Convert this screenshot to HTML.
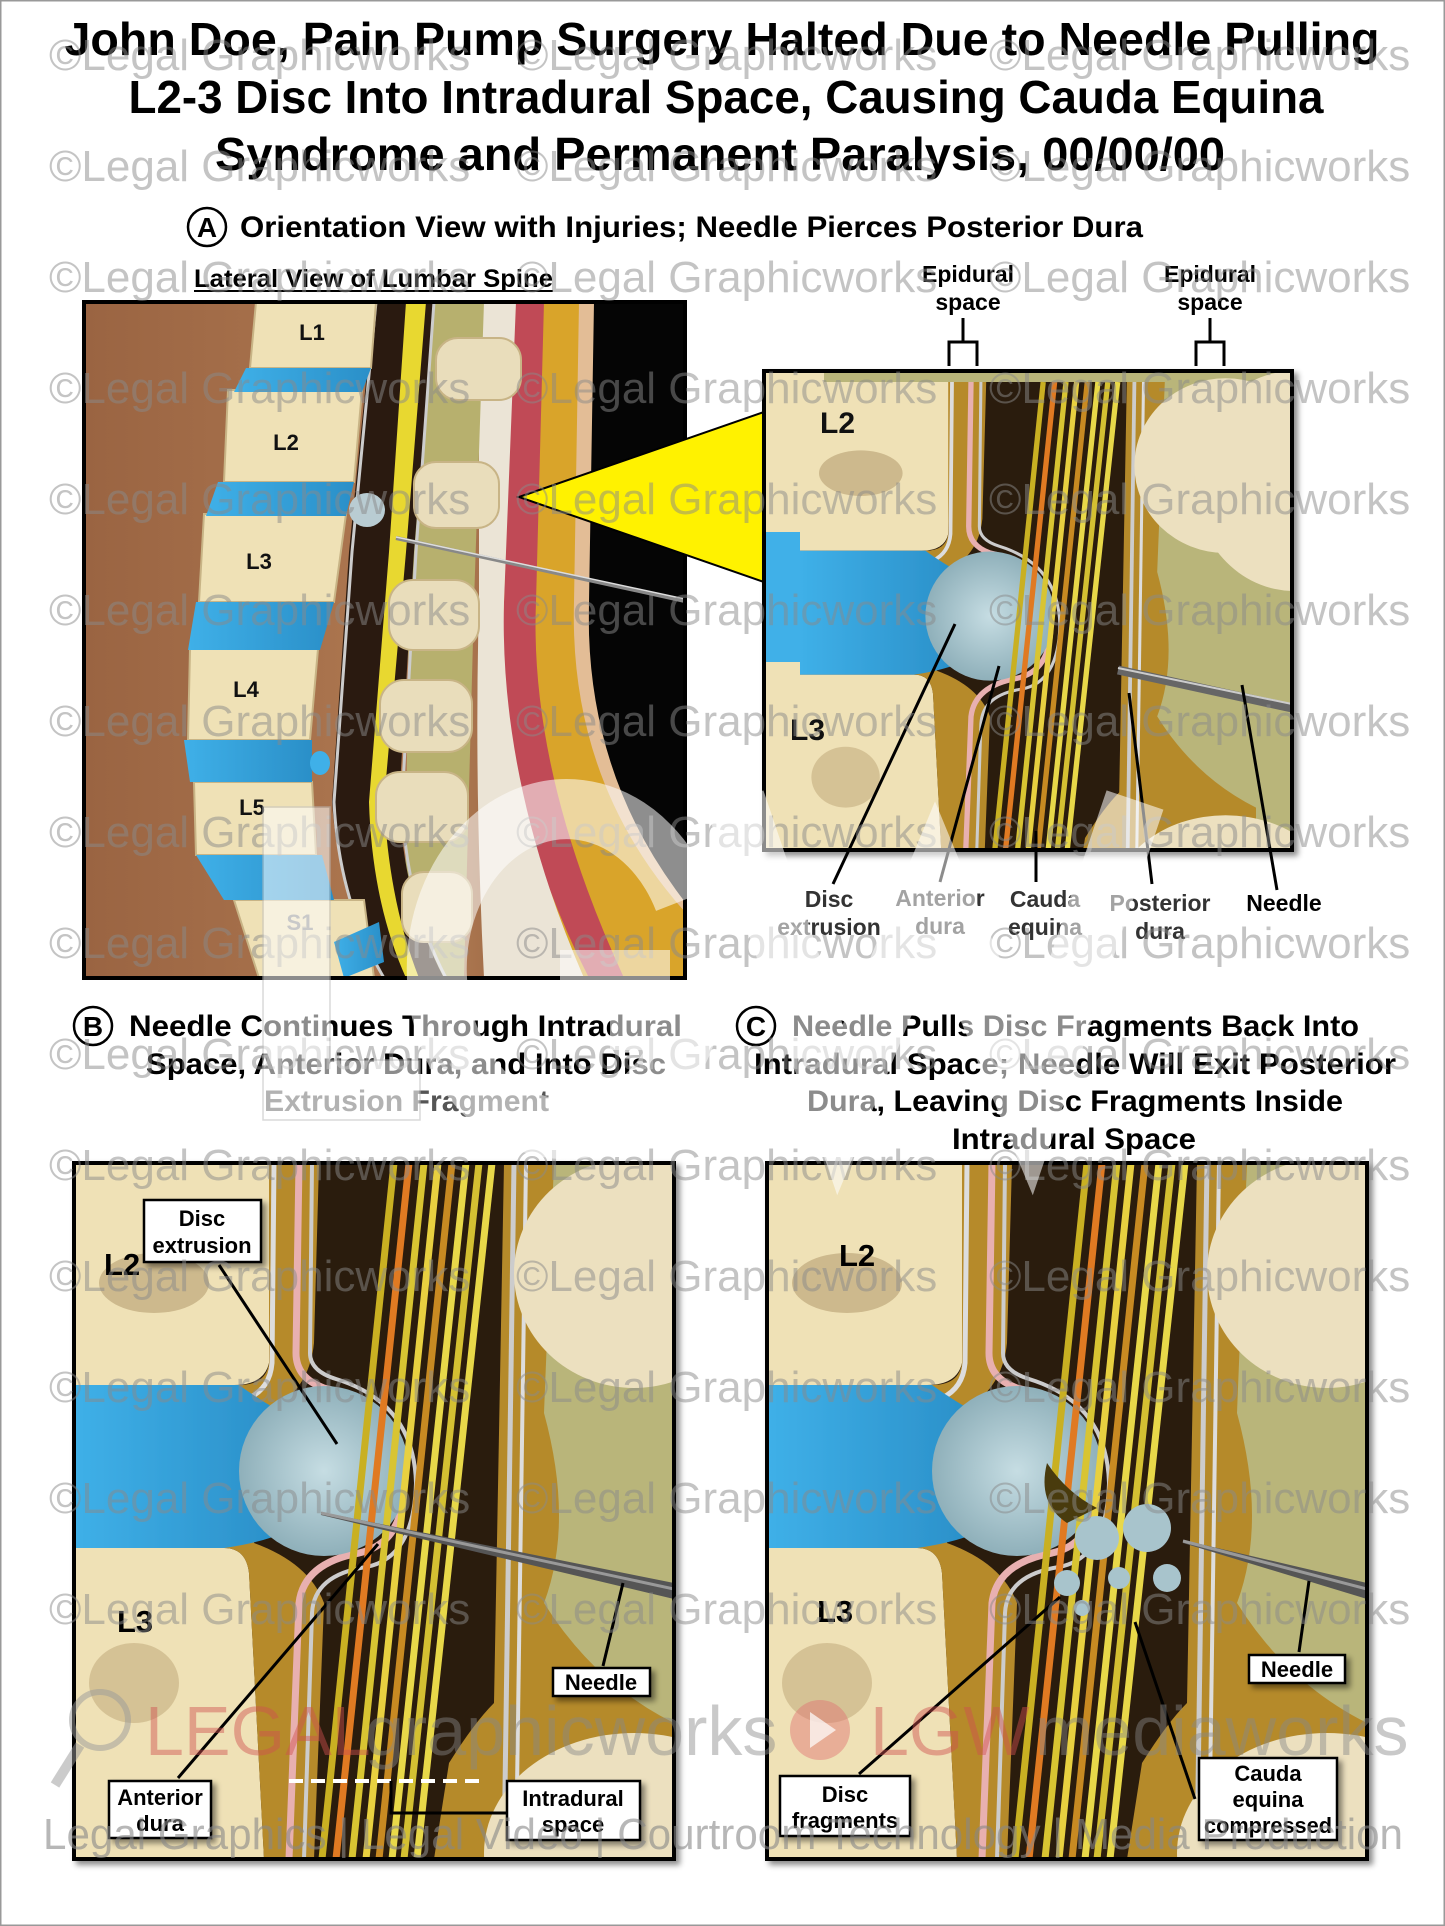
<!DOCTYPE html>
<html><head><meta charset="utf-8"><style>
html,body{margin:0;padding:0;background:#fff;}
svg{display:block;}
text{font-family:"Liberation Sans Narrow","Liberation Sans",sans-serif;font-weight:bold;}
.b{font-family:"Liberation Sans",sans-serif;font-weight:bold;}
.wm{font-family:"Liberation Sans",sans-serif;font-weight:normal;fill:#8a8a8a;opacity:.5;font-size:44px;}
</style></head><body>
<svg width="1445" height="1926" viewBox="0 0 1445 1926" xmlns="http://www.w3.org/2000/svg">
<defs>
<linearGradient id="brown" x1="0" x2="1"><stop offset="0" stop-color="#9a6442"/><stop offset=".6" stop-color="#b07a52"/><stop offset="1" stop-color="#6e4128"/></linearGradient>
<linearGradient id="blue" x1="0" x2="1"><stop offset="0" stop-color="#3fb0e8"/><stop offset="1" stop-color="#2a8fc8"/></linearGradient>
<radialGradient id="extr"><stop offset="0" stop-color="#c6dde3"/><stop offset="1" stop-color="#8fb0ba"/></radialGradient>
<filter id="sh" x="-10%" y="-10%" width="130%" height="130%"><feDropShadow dx="4" dy="4" stdDeviation="3" flood-opacity=".45"/></filter>
<g id="mag">
 <rect x="0" y="0" width="600" height="696" fill="#2a1a10"/>
 <path d="M0 0 H200 L195 200 Q190 222 160 222 H0Z" fill="#efe1b6"/>
 <path d="M0 385 H150 Q172 385 175 410 L190 696 H0Z" fill="#efe1b6"/>
 <ellipse cx="80" cy="120" rx="55" ry="30" fill="#a58a5a" opacity=".45"/>
 <ellipse cx="60" cy="520" rx="45" ry="40" fill="#a58a5a" opacity=".35"/>
 <path d="M195 0 H245 L240 180 Q235 230 190 250 L180 380 Q235 400 250 440 L240 696 H190 L175 410 Q172 385 150 385 L165 222 Q192 222 195 200Z" fill="#b68a2c"/>
 <path d="M200 0 L198 200 Q196 225 175 235" stroke="#ddd" stroke-width="5" fill="none"/>
 <path d="M225 0 L222 190 Q222 215 250 225 Q320 240 330 320 Q330 380 285 390 Q230 400 225 440 L215 696" stroke="#e8b0b0" stroke-width="7" fill="none"/>
 <path d="M238 0 L236 190 Q236 208 262 216 Q340 240 342 320 Q340 395 292 404 Q240 412 238 450 L230 696" stroke="#ccc" stroke-width="4" fill="none"/>
 <path d="M0 222 H165 Q190 240 210 250 L210 370 Q185 380 150 385 H0Z" fill="url(#blue)"/>
 <ellipse cx="250" cy="308" rx="85" ry="85" fill="url(#extr)"/>
 <g stroke-width="7" fill="none">
  <path d="M320 0 L248 696" stroke="#c9b020"/>
  <path d="M335 0 L262 696" stroke="#e07a20"/>
  <path d="M350 0 L278 696" stroke="#d8c430"/>
  <path d="M364 0 L292 696" stroke="#e8d040"/>
  <path d="M378 0 L305 696" stroke="#c88a20"/>
  <path d="M392 0 L318 696" stroke="#e8d848"/>
  <path d="M405 0 L330 696" stroke="#d4c030"/>
  <path d="M418 0 L343 696" stroke="#e8d848"/>
 </g>
 <path d="M430 0 H600 V696 H360 L375 600 Q400 560 420 540Z" fill="#b58a2c"/>
 <path d="M440 0 L430 696" stroke="#ccc" stroke-width="5" fill="none"/>
 <path d="M452 0 L442 696" stroke="#ddd" stroke-width="4" fill="none"/>
 <path d="M480 0 H600 V560 Q520 520 470 440 Q500 360 470 250Z" fill="#b9b57a"/>
 <ellipse cx="560" cy="110" rx="120" ry="115" fill="#ece0bf"/>
 <ellipse cx="560" cy="690" rx="150" ry="120" fill="#ece0bf"/>
</g>
</defs>
<rect width="1445" height="1926" fill="#fff"/>
<rect x="0.5" y="0.5" width="1444" height="1925" fill="none" stroke="#999" stroke-width="2"/>

<text x="722" y="55" font-size="46" text-anchor="middle" textLength="1315" lengthAdjust="spacingAndGlyphs">John Doe, Pain Pump Surgery Halted Due to Needle Pulling</text>
<text x="726" y="113" font-size="46" text-anchor="middle" textLength="1195" lengthAdjust="spacingAndGlyphs">L2-3 Disc Into Intradural Space, Causing Cauda Equina</text>
<text x="720" y="170" font-size="46" text-anchor="middle" textLength="1010" lengthAdjust="spacingAndGlyphs">Syndrome and Permanent Paralysis, 00/00/00</text>
<circle cx="207" cy="227" r="19" fill="none" stroke="#000" stroke-width="2.5"/>
<text x="207" y="237" font-size="28" text-anchor="middle">A</text>
<text x="240" y="237" font-size="30" textLength="903" lengthAdjust="spacingAndGlyphs">Orientation View with Injuries; Needle Pierces Posterior Dura</text>
<text x="194" y="287" font-size="25" textLength="359" lengthAdjust="spacingAndGlyphs">Lateral View of Lumbar Spine</text>
<line x1="194" y1="291" x2="553" y2="291" stroke="#000" stroke-width="2"/>
<text x="968" y="282" font-size="23" text-anchor="middle">Epidural</text>
<text x="968" y="310" font-size="23" text-anchor="middle">space</text>
<text x="1210" y="282" font-size="23" text-anchor="middle">Epidural</text>
<text x="1210" y="310" font-size="23" text-anchor="middle">space</text>
<path d="M963 318 V342 M949 366 V342 H977 V366" stroke="#000" stroke-width="3" fill="none"/>
<path d="M1210 318 V342 M1196 366 V342 H1224 V366" stroke="#000" stroke-width="3" fill="none"/>

<!-- Panel A -->
<g transform="translate(84,302)">
 <svg width="601" height="676" viewBox="0 0 601 676">
 <rect width="601" height="676" fill="url(#brown)"/>
 <rect x="505" y="0" width="96" height="676" fill="#050505"/>
 <path d="M475 0 H510 L505 300 Q500 470 601 600 V676 H470 Q420 500 430 300Z" fill="#e3bd96"/>
 <path d="M455 0 H495 L490 300 Q485 480 601 610 V676 H460 Q405 500 415 300Z" fill="#d9a42a"/>
 <path d="M430 0 H460 L452 300 Q445 470 540 676 H505 Q410 490 420 300 L420 300Z" fill="#c04a56"/>
 <path d="M395 0 H432 L420 300 Q415 480 500 676 H400 Q390 480 395 300Z" fill="#ebe4d6"/>
 <path d="M345 0 H400 L390 300 L380 676 H320 L325 300Z" fill="#b7b06e"/>
 <path d="M290 0 H350 L330 250 L315 500 Q320 600 360 676 H300 Q255 600 248 500 L265 250Z" fill="#2a1a10"/>
 <path d="M322 0 H342 L322 250 L300 500 Q305 600 335 676 H322 Q288 600 285 500 L305 250Z" fill="#e8d830"/>
 <path d="M292 0 L268 250 L250 500 Q255 600 300 676" stroke="#ccc" stroke-width="3" fill="none"/>
 <path d="M350 0 L332 250 L318 500 Q322 600 362 676" stroke="#ccc" stroke-width="3" fill="none"/>
 <g fill="#efe1b6" stroke="#c8b486" stroke-width="2">
  <path d="M172 0 H292 L287 66 H166Z"/>
  <path d="M144 88 H278 L270 180 H140Z"/>
  <path d="M120 212 H262 L250 300 H115Z"/>
  <path d="M106 347 H234 L226 438 H104Z"/>
  <path d="M110 480 H228 L232 553 H112Z"/>
  <path d="M150 598 H280 L290 676 H175Z"/>
 </g>
 <g fill="url(#blue)">
  <path d="M162 66 H287 L278 90 H150Z"/>
  <path d="M134 180 H270 L262 214 H122Z"/>
  <path d="M112 300 H250 L236 348 H104Z"/>
  <path d="M100 438 H228 L228 480 H106Z"/>
  <path d="M112 553 H238 L250 598 H140Z"/>
  <path d="M250 640 L295 620 L300 660 L260 676Z"/>
 </g>
 <ellipse cx="283" cy="208" rx="18" ry="17" fill="#b9ccd2"/>
 <ellipse cx="236" cy="461" rx="10" ry="12" fill="#3fb0e8"/>
 <g fill="#e9ddbb" stroke="#c8b486" stroke-width="2">
  <rect x="352" y="36" width="85" height="62" rx="22"/>
  <rect x="330" y="160" width="85" height="66" rx="22"/>
  <rect x="305" y="278" width="90" height="70" rx="24"/>
  <rect x="296" y="378" width="92" height="72" rx="24"/>
  <rect x="292" y="470" width="92" height="70" rx="24"/>
  <rect x="318" y="570" width="70" height="70" rx="22"/>
 </g>
 <line x1="312" y1="236" x2="601" y2="299" stroke="#888" stroke-width="4"/>
 <line x1="312" y1="235" x2="601" y2="297" stroke="#ddd" stroke-width="1.5"/>
 </svg>
 <rect x="0" y="0" width="601" height="676" fill="none" stroke="#000" stroke-width="4"/>
</g>
<g font-size="22" fill="#111">
 <text x="312" y="340" text-anchor="middle" class="b">L1</text>
 <text x="286" y="450" text-anchor="middle" class="b">L2</text>
 <text x="259" y="569" text-anchor="middle" class="b">L3</text>
 <text x="246" y="697" text-anchor="middle" class="b">L4</text>
 <text x="252" y="815" text-anchor="middle" class="b">L5</text>
 <text x="300" y="930" text-anchor="middle" class="b" fill="#888">S1</text>
</g>
<polygon points="519,497 764,412 764,582" fill="#fff200" stroke="#000" stroke-width="2"/>

<!-- Top right panel -->
<g transform="translate(764,371)" filter="url(#sh)">
 <svg width="528" height="479" viewBox="0 0 528 479">
  <rect width="528" height="479" fill="#b9b57a"/>
  <rect width="60" height="479" fill="#efe1b6"/>
  <rect x="0" y="161" width="60" height="130" fill="#3fb0e8"/>
  <g transform="translate(36,11) scale(0.76)"><use href="#mag"/></g>
  <ellipse cx="530" cy="110" rx="100" ry="110" fill="#ece0bf"/>
  <line x1="354" y1="299" x2="528" y2="337" stroke="#666" stroke-width="9"/>
  <line x1="354" y1="297" x2="528" y2="333" stroke="#ccc" stroke-width="2"/>
 </svg>
 <rect x="0" y="0" width="528" height="479" fill="none" stroke="#000" stroke-width="4"/>
</g>
<text x="820" y="433" font-size="30" class="b" fill="#111">L2</text>
<text x="790" y="740" font-size="30" class="b" fill="#111">L3</text>
<g stroke="#000" stroke-width="3">
 <line x1="833" y1="884" x2="955" y2="624"/>
 <line x1="940" y1="882" x2="999" y2="666"/>
 <line x1="1036" y1="882" x2="1036" y2="831"/>
 <line x1="1152" y1="884" x2="1129" y2="693"/>
 <line x1="1277" y1="890" x2="1242" y2="685"/>
</g>
<g font-size="23" text-anchor="middle" fill="#333">
 <text x="829" y="907" class="b">Disc</text><text x="829" y="935" class="b">extrusion</text>
 <text x="940" y="906" class="b">Anterior</text><text x="940" y="934" class="b">dura</text>
 <text x="1045" y="907" class="b">Cauda</text><text x="1045" y="935" class="b">equina</text>
 <text x="1160" y="911" class="b">Posterior</text><text x="1160" y="939" class="b">dura</text>
 <text x="1284" y="911" class="b" fill="#000">Needle</text>
</g>

<!-- B & C headings -->
<circle cx="93" cy="1026" r="19" fill="none" stroke="#000" stroke-width="2.5"/>
<text x="93" y="1036" font-size="28" text-anchor="middle" class="b">B</text>
<text x="129" y="1036" font-size="30" class="b" textLength="553" lengthAdjust="spacingAndGlyphs">Needle Continues Through Intradural</text>
<text x="146" y="1074" font-size="30" class="b" textLength="520" lengthAdjust="spacingAndGlyphs">Space, Anterior Dura, and Into Disc</text>
<text x="264" y="1111" font-size="30" class="b" textLength="285" lengthAdjust="spacingAndGlyphs" fill="#555">Extrusion Fragment</text>
<circle cx="756" cy="1026" r="19" fill="none" stroke="#000" stroke-width="2.5"/>
<text x="756" y="1036" font-size="28" text-anchor="middle" class="b">C</text>
<text x="792" y="1036" font-size="30" class="b" textLength="567" lengthAdjust="spacingAndGlyphs">Needle Pulls Disc Fragments Back Into</text>
<text x="754" y="1074" font-size="30" class="b" textLength="642" lengthAdjust="spacingAndGlyphs">Intradural Space; Needle Will Exit Posterior</text>
<text x="807" y="1111" font-size="30" class="b" textLength="536" lengthAdjust="spacingAndGlyphs">Dura, Leaving Disc Fragments Inside</text>
<text x="952" y="1149" font-size="30" class="b" textLength="244" lengthAdjust="spacingAndGlyphs">Intradural Space</text>

<!-- Panel B -->
<g transform="translate(74,1163)" filter="url(#sh)">
 <svg width="600" height="696" viewBox="0 0 600 696">
  <use href="#mag"/>
  <polygon points="247,349 600,420 600,436 247,352" fill="#555"/>
  <line x1="247" y1="350" x2="600" y2="426" stroke="#999" stroke-width="3"/>
  <path d="M215 618 H410" stroke="#fff" stroke-width="4" stroke-dasharray="14 8"/>
 </svg>
 <rect x="0" y="0" width="600" height="696" fill="none" stroke="#000" stroke-width="4"/>
</g>

<!-- Panel C -->
<g transform="translate(767,1163)" filter="url(#sh)">
 <svg width="600" height="696" viewBox="0 0 600 696">
  <use href="#mag"/>
  <path d="M280 300 Q300 330 330 345 L300 360 Q270 340 280 300Z" fill="#4a3a10"/>
  <g fill="#a8c4cc">
   <circle cx="330" cy="375" r="22"/><circle cx="380" cy="365" r="24"/><circle cx="300" cy="420" r="13"/>
   <circle cx="352" cy="415" r="11"/><circle cx="400" cy="415" r="14"/><circle cx="315" cy="445" r="8"/>
  </g>
  <polygon points="416,377 600,420 600,436 416,380" fill="#555"/>
  <line x1="416" y1="378" x2="600" y2="426" stroke="#999" stroke-width="3"/>
 </svg>
 <rect x="0" y="0" width="600" height="696" fill="none" stroke="#000" stroke-width="4"/>
</g>

<text x="104" y="1275" font-size="31" class="b">L2</text>
<text x="117" y="1632" font-size="31" class="b">L3</text>
<text x="839" y="1266" font-size="31" class="b">L2</text>
<text x="817" y="1622" font-size="31" class="b">L3</text>
<g stroke="#000" stroke-width="3" fill="none">
 <line x1="219" y1="1265" x2="337" y2="1444"/>
 <line x1="603" y1="1666" x2="623" y2="1583"/>
 <line x1="178" y1="1778" x2="378" y2="1544"/>
 <path d="M507 1813 H391 V1781"/>
 <line x1="859" y1="1774" x2="1060" y2="1597"/>
 <line x1="1195" y1="1799" x2="1135" y2="1622"/>
 <line x1="1299" y1="1652" x2="1309" y2="1581"/>
</g>
<g filter="url(#sh)" fill="#fff" stroke="#000" stroke-width="2.5">
 <rect x="144" y="1200" width="117" height="62"/>
 <rect x="553" y="1668" width="97" height="28"/>
 <rect x="109" y="1781" width="102" height="57"/>
 <rect x="507" y="1781" width="133" height="59"/>
 <rect x="780" y="1776" width="130" height="60"/>
 <rect x="1249" y="1655" width="96" height="28"/>
 <rect x="1199" y="1758" width="138" height="82"/>
</g>
<g font-size="22" text-anchor="middle">
 <text x="202" y="1226" class="b">Disc</text><text x="202" y="1253" class="b">extrusion</text>
 <text x="601" y="1690" class="b">Needle</text>
 <text x="160" y="1805" class="b">Anterior</text><text x="160" y="1831" class="b">dura</text>
 <text x="573" y="1806" class="b">Intradural</text><text x="573" y="1832" class="b">space</text>
 <text x="845" y="1802" class="b">Disc</text><text x="845" y="1828" class="b">fragments</text>
 <text x="1297" y="1677" class="b">Needle</text>
 <text x="1268" y="1781" class="b">Cauda</text><text x="1268" y="1807" class="b">equina</text><text x="1268" y="1833" class="b" textLength="128" lengthAdjust="spacingAndGlyphs">compressed</text>
</g>

<!-- repeating watermark -->
<g>
 <text x="49" y="70" class="wm">©Legal Graphicworks</text><text x="516" y="70" class="wm">©Legal Graphicworks</text><text x="989" y="70" class="wm">©Legal Graphicworks</text>
 <text x="49" y="181" class="wm">©Legal Graphicworks</text><text x="516" y="181" class="wm">©Legal Graphicworks</text><text x="989" y="181" class="wm">©Legal Graphicworks</text>
 <text x="49" y="292" class="wm">©Legal Graphicworks</text><text x="516" y="292" class="wm">©Legal Graphicworks</text><text x="989" y="292" class="wm">©Legal Graphicworks</text>
 <text x="49" y="403" class="wm">©Legal Graphicworks</text><text x="516" y="403" class="wm">©Legal Graphicworks</text><text x="989" y="403" class="wm">©Legal Graphicworks</text>
 <text x="49" y="514" class="wm">©Legal Graphicworks</text><text x="516" y="514" class="wm">©Legal Graphicworks</text><text x="989" y="514" class="wm">©Legal Graphicworks</text>
 <text x="49" y="625" class="wm">©Legal Graphicworks</text><text x="516" y="625" class="wm">©Legal Graphicworks</text><text x="989" y="625" class="wm">©Legal Graphicworks</text>
 <text x="49" y="736" class="wm">©Legal Graphicworks</text><text x="516" y="736" class="wm">©Legal Graphicworks</text><text x="989" y="736" class="wm">©Legal Graphicworks</text>
 <text x="49" y="847" class="wm">©Legal Graphicworks</text><text x="516" y="847" class="wm">©Legal Graphicworks</text><text x="989" y="847" class="wm">©Legal Graphicworks</text>
 <text x="49" y="958" class="wm">©Legal Graphicworks</text><text x="516" y="958" class="wm">©Legal Graphicworks</text><text x="989" y="958" class="wm">©Legal Graphicworks</text>
 <text x="49" y="1069" class="wm">©Legal Graphicworks</text><text x="516" y="1069" class="wm">©Legal Graphicworks</text><text x="989" y="1069" class="wm">©Legal Graphicworks</text>
 <text x="49" y="1180" class="wm">©Legal Graphicworks</text><text x="516" y="1180" class="wm">©Legal Graphicworks</text><text x="989" y="1180" class="wm">©Legal Graphicworks</text>
 <text x="49" y="1291" class="wm">©Legal Graphicworks</text><text x="516" y="1291" class="wm">©Legal Graphicworks</text><text x="989" y="1291" class="wm">©Legal Graphicworks</text>
 <text x="49" y="1402" class="wm">©Legal Graphicworks</text><text x="516" y="1402" class="wm">©Legal Graphicworks</text><text x="989" y="1402" class="wm">©Legal Graphicworks</text>
 <text x="49" y="1513" class="wm">©Legal Graphicworks</text><text x="516" y="1513" class="wm">©Legal Graphicworks</text><text x="989" y="1513" class="wm">©Legal Graphicworks</text>
 <text x="49" y="1624" class="wm">©Legal Graphicworks</text><text x="516" y="1624" class="wm">©Legal Graphicworks</text><text x="989" y="1624" class="wm">©Legal Graphicworks</text>
</g>

<!-- big LGW watermark -->
<g fill="#fff" opacity=".55" stroke="#bbb" stroke-width="1.5">
 <path d="M263 807 H330 V1060 H420 V1120 H263Z"/>
 <path d="M684 900 A130 160 0 1 0 690 1020 L640 1020 L640 980 L560 980" fill="none" stroke="#fff" stroke-width="60"/>
 <path d="M735 800 L840 1110 L935 880 L1030 1110 L1135 800" fill="none" stroke="#fff" stroke-width="60"/>
</g>

<!-- bottom brand -->
<text x="145" y="1755" font-size="70" fill="#d05050" opacity=".45" style="font-weight:normal;font-family:'Liberation Sans',sans-serif">LEGAL</text>
<text x="365" y="1755" font-size="70" fill="#888" opacity=".45" style="font-weight:normal;font-family:'Liberation Sans',sans-serif">graphicworks</text>
<circle cx="100" cy="1720" r="28" fill="none" stroke="#999" stroke-width="6" opacity=".5"/>
<line x1="80" y1="1745" x2="55" y2="1785" stroke="#999" stroke-width="10" opacity=".5"/>
<circle cx="820" cy="1730" r="30" fill="#e07070" opacity=".45"/>
<polygon points="810,1712 836,1730 810,1748" fill="#fff" opacity=".7"/>
<text x="870" y="1755" font-size="70" fill="#d05050" opacity=".45" style="font-weight:normal;font-family:'Liberation Sans',sans-serif">LGW</text>
<text x="1035" y="1755" font-size="70" fill="#888" opacity=".45" style="font-weight:normal;font-family:'Liberation Sans',sans-serif">mediaworks</text>
<text x="43" y="1849" font-size="44" fill="#888" opacity=".6" textLength="1360" lengthAdjust="spacingAndGlyphs" style="font-weight:normal;font-family:'Liberation Sans',sans-serif">Legal Graphics | Legal Video | Courtroom Technology | Media Production</text>
</svg>
</body></html>
